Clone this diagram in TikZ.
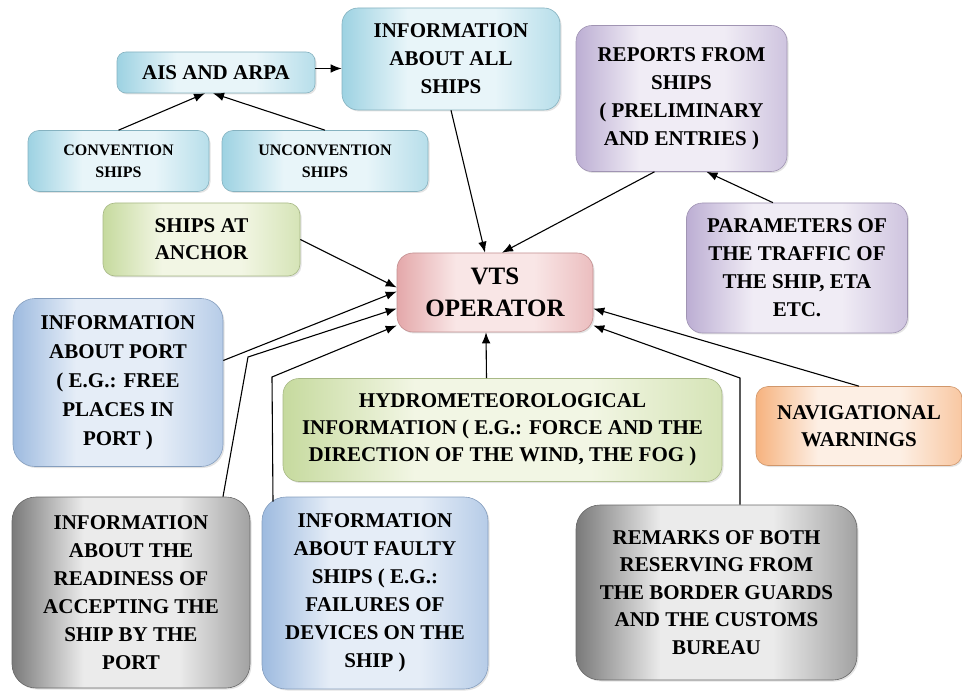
\documentclass[tikz,border=0pt]{standalone}
\usepackage{fontspec}
\setmainfont{Liberation Serif}
\usetikzlibrary{arrows.meta,shadows}
\definecolor{cyandark}{HTML}{9DD2E2}
\definecolor{cyanlight}{HTML}{E8F5F9}
\definecolor{greendark}{HTML}{C6DA9E}
\definecolor{greenlight}{HTML}{F2F6E4}
\definecolor{purpledark}{HTML}{BCAED3}
\definecolor{purplelight}{HTML}{F0ECF5}
\definecolor{pinkdark}{HTML}{E4A8AA}
\definecolor{pinklight}{HTML}{F9E6E6}
\definecolor{bluedark}{HTML}{9DBADF}
\definecolor{bluelight}{HTML}{E5EDF7}
\definecolor{orangedark}{HTML}{F6B27E}
\definecolor{orangelight}{HTML}{FDEFE4}
\definecolor{graydark}{HTML}{7A7A7A}
\definecolor{graylight}{HTML}{EBEBEB}
\colorlet{tintA}{graydark}
\colorlet{tintB}{graylight}
\pgfdeclarehorizontalshading[tintA,tintB]{glow}{100bp}{color(0bp)=(tintA); color(25bp)=(tintA);
  color(40bp)=(tintB); color(60bp)=(tintB); color(75bp)=(tintA!65!tintB); color(100bp)=(tintA!65!tintB)}
\tikzset{
  box/.style={rounded corners=16pt, align=center, inner sep=0pt, line width=0.6pt,
    font=\bfseries\fontsize{21}{28}\selectfont,
    drop shadow={opacity=0.22, shadow xshift=1.5pt, shadow yshift=-1.5pt}},
  tint/.style 2 args={/utils/exec={\colorlet{tintA}{#1}\colorlet{tintB}{#2}}, shading=glow, draw=#1!85!black},
  arr/.style={-{Latex[length=11pt,width=8.5pt]}, line width=1.1pt}
}
\begin{document}
\begin{tikzpicture}[x=1pt,y=-1pt]
\useasboundingbox (0,0) rectangle (962,695);
%ais group
\node (ais) at (216,72.5) [box, tint={cyandark}{cyanlight}, rounded corners=9pt, minimum width=198pt, minimum height=41pt] {AIS AND ARPA};
\node (allships) at (451,59) [box, tint={cyandark}{cyanlight}, minimum width=218pt, minimum height=102pt] {INFORMATION\\ABOUT ALL\\SHIPS};
\node (conv) at (118.5,161) [box, tint={cyandark}{cyanlight}, rounded corners=11pt, minimum width=181pt, minimum height=61pt, font=\bfseries\fontsize{16}{22}\selectfont] {CONVENTION\\SHIPS};
\node (unconv) at (325,161) [box, tint={cyandark}{cyanlight}, rounded corners=11pt, minimum width=206pt, minimum height=61pt, font=\bfseries\fontsize{16}{22}\selectfont] {UNCONVENTION\\SHIPS};

%reports
\node (reports) at (681.5,98.5) [box, tint={purpledark}{purplelight}, minimum width=211pt, minimum height=146pt] {REPORTS FROM\\SHIPS\\( PRELIMINARY\\AND ENTRIES )};
\node (params) at (797,268) [box, tint={purpledark}{purplelight}, minimum width=221pt, minimum height=130pt] {PARAMETERS OF\\THE TRAFFIC OF\\THE SHIP, ETA\\ETC.};

%operator
\node (vts) at (495,292.5) [box, tint={pinkdark}{pinklight}, minimum width=196pt, minimum height=79pt, font=\bfseries\fontsize{25}{32}\selectfont] {VTS\\OPERATOR};
\node (atanchor) at (201.5,239.5) [box, tint={greendark}{greenlight}, rounded corners=12pt, minimum width=197pt, minimum height=73pt, font=\bfseries\fontsize{21}{27}\selectfont] {SHIPS AT\\ANCHOR};
\node (port) at (118,382.5) [box, tint={bluedark}{bluelight}, rounded corners=22pt, minimum width=210pt, minimum height=168pt, font=\bfseries\fontsize{21}{29}\selectfont] {INFORMATION\\ABOUT PORT\\( E.G.: FREE\\PLACES IN\\PORT )};
\node (hydro) at (502.5,430) [box, tint={greendark}{greenlight}, minimum width=439pt, minimum height=103pt, font=\bfseries\fontsize{21}{27}\selectfont] {HYDROMETEOROLOGICAL\\INFORMATION ( E.G.: FORCE AND THE\\DIRECTION OF THE WIND, THE FOG )};
\node (nav) at (859,426) [box, tint={orangedark}{orangelight}, rounded corners=12pt, minimum width=206pt, minimum height=79pt, font=\bfseries\fontsize{21}{27}\selectfont] {NAVIGATIONAL\\WARNINGS};

%bottom row
\node (ready) at (131,592.5) [box, tint={graydark}{graylight}, rounded corners=24pt, minimum width=238pt, minimum height=191pt] {INFORMATION\\ABOUT THE\\READINESS OF\\ACCEPTING THE\\SHIP BY THE\\PORT};
\node (faulty) at (375,593) [box, tint={bluedark}{bluelight}, rounded corners=24pt, minimum width=226pt, minimum height=192pt] {INFORMATION\\ABOUT FAULTY\\SHIPS ( E.G.:\\FAILURES OF\\DEVICES ON THE\\SHIP )};
\node (remarks) at (716.5,592.5) [box, tint={graydark}{graylight}, rounded corners=24pt, minimum width=281pt, minimum height=175pt, font=\bfseries\fontsize{21}{27.5}\selectfont] {REMARKS OF BOTH\\RESERVING FROM\\THE BORDER GUARDS\\AND THE CUSTOMS\\BUREAU};

%bends
\coordinate (readybend) at (248,357);
\coordinate (faultybend) at (272,377);
\coordinate (remarksbend) at (740,378);

%arrows
\draw[arr] (conv.north) -- ([xshift=-11pt]ais.south);
\draw[arr] (unconv.north) -- ([xshift=-3pt]ais.south);
\draw[arr] ([yshift=4pt]ais.east) -- ([yshift=4pt]ais.east -| allships.west);
\draw[arr] (allships.south) -- ([xshift=-10pt]vts.north);
\draw[arr] ([xshift=-27pt]reports.south) -- ([xshift=7pt]vts.north);
\draw[arr] ([xshift=-24pt]params.north) -- ([xshift=25pt]reports.south);
\draw[arr] (atanchor.east) -- ([yshift=5pt]vts.west);
\draw[arr] ([yshift=22pt]port.east) -- ([yshift=1pt]vts.west);
\draw[arr] ([xshift=92pt]ready.north) -- (readybend) -- ([yshift=-16pt]vts.west);
\draw[arr] ([xshift=-102pt,yshift=-5pt]faulty.north) -- (faultybend) -- ([yshift=-33pt]vts.west);
\draw[arr] ([xshift=-16pt]hydro.north) -- ([xshift=-9pt]vts.south);
\draw[arr] (nav.north) -- ([yshift=-16pt]vts.east);
\draw[arr] ([xshift=23.5pt]remarks.north) -- (remarksbend) -- ([yshift=-33pt]vts.east);
\end{tikzpicture}
\end{document}
